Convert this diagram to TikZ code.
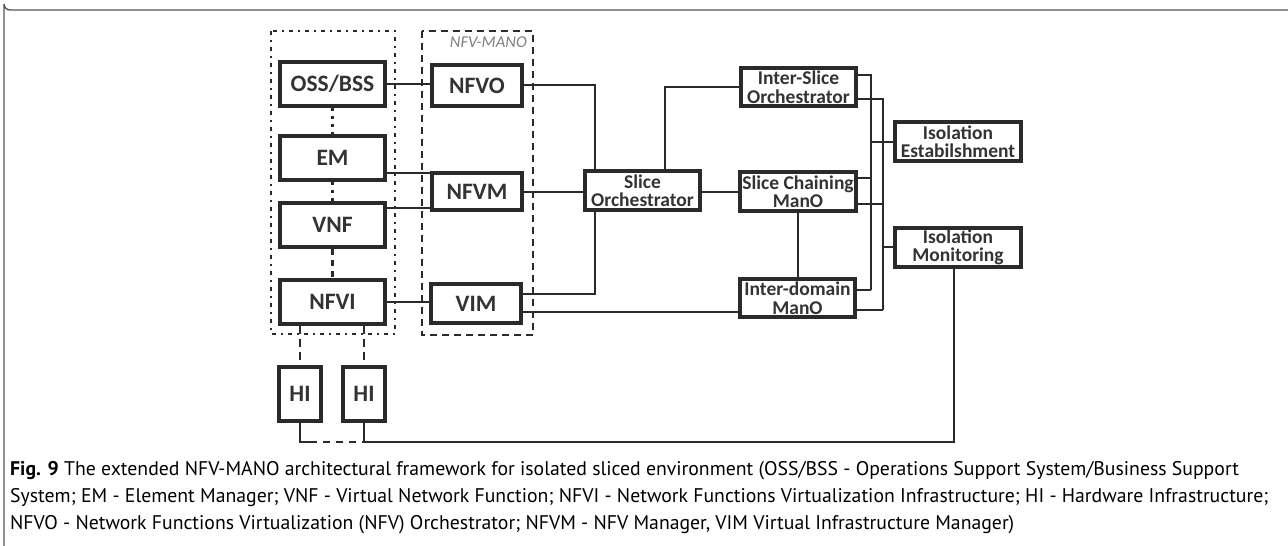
\documentclass[tikz,border=0pt]{standalone}
\usepackage{fontspec}
\setmainfont{Carlito}
\newfontfamily\capfont{PT Sans}
\definecolor{ink}{HTML}{2A2A2A}
\definecolor{txt}{HTML}{333333}
\definecolor{frame}{HTML}{555555}
\tikzset{
  box/.style={draw=ink, line width=3.6pt, fill=white, inner sep=0pt, align=center,
    text=txt, font=\bfseries\fontsize{23.5}{23.5}\selectfont},
  tbox/.style={box, font=\bfseries\fontsize{19.5}{18.5}\selectfont},
  conn/.style={draw=ink, line width=1.8pt},
  dotc/.style={draw=ink, line width=2.2pt, dash pattern=on 3pt off 5pt},
  dashc/.style={draw=ink, line width=2.2pt, dash pattern=on 8pt off 5pt},
  capline/.style={anchor=base west, inner sep=0pt, text=black, font=\capfont\fontsize{19.75}{22}\selectfont},
}
\begin{document}
\begin{tikzpicture}[x=1pt,y=-1pt]
\useasboundingbox (0,0) rectangle (1288,546);
% frame
\draw[frame, line width=1.4pt] (1288,10) -- (10,10) arc[start angle=90,end angle=180,radius=6] -- (4,546);
% group boxes
\draw[ink, line width=2.4pt, dash pattern=on 4pt off 5pt on 2pt off 5pt] (271,31) rectangle (395,334);
\draw[ink, line width=2.4pt, dash pattern=on 7pt off 5pt] (422,31) rectangle (533,335);
\node[anchor=east, inner sep=0pt, text=gray, font=\itshape\fontsize{16.5}{16.5}\selectfont] (mano) at (527,42) {NFV-MANO};
% left column
\node[box, minimum width=105pt, minimum height=44pt] (oss) at (332.5,84) {OSS/BSS};
\node[box, minimum width=105pt, minimum height=44pt] (em) at (332.5,158) {EM};
\node[box, minimum width=105pt, minimum height=44pt] (vnf) at (332.5,225) {VNF};
\node[box, minimum width=105pt, minimum height=44pt] (nfvi) at (332.5,302) {NFVI};
\node[box, minimum width=42pt, minimum height=54pt] (hi1) at (300,394) {HI};
\node[box, minimum width=42pt, minimum height=54pt] (hi2) at (364,394) {HI};
% MANO column
\node[box, minimum width=90pt, minimum height=41pt] (nfvo) at (477,85.5) {NFVO};
\node[box, minimum width=90pt, minimum height=37pt] (nfvm) at (477,191.5) {NFVM};
\node[box, minimum width=90pt, minimum height=39pt] (vim) at (476,303.5) {VIM};
% extension
\node[tbox, minimum width=115pt, minimum height=39pt] (so) at (642.5,190.5) {Slice\\Orchestrator};
\node[tbox, minimum width=115pt, minimum height=38pt] (iso) at (798.5,87) {Inter-Slice\\Orchestrator};
\node[tbox, minimum width=116pt, minimum height=39pt] (scm) at (798,191.5) {Slice Chaining\\ManO};
\node[tbox, minimum width=115pt, minimum height=38pt] (idm) at (797.5,298) {Inter-domain\\ManO};
\node[tbox, minimum width=126pt, minimum height=39pt] (ie) at (958,141.5) {Isolation\\Estabilshment};
\node[tbox, minimum width=126pt, minimum height=39pt] (im) at (958,247.5) {Isolation\\Monitoring};
% vertical links in left column
\draw[dotc] (oss.south) -- (em.north);
\draw[dotc] (em.south) -- (vnf.north);
\draw[ink, line width=2.2pt, dash pattern=on 6pt off 5pt] (vnf.south) -- (nfvi.north);
\draw[dashc] (nfvi.south -| hi1.north) -- (hi1.north);
\draw[dashc] (nfvi.south -| hi2.north) -- (hi2.north);
% left to MANO
\draw[conn] (oss.east |- 0,84) -- (nfvo.west |- 0,84);
\draw[conn] (em.east |- 0,173) -- (nfvm.west |- 0,173);
\draw[conn] (vnf.east |- 0,208) -- (nfvm.west |- 0,208);
\draw[conn] (nfvi.east |- 0,302) -- (vim.west |- 0,302);
% MANO to slice orchestrator
\coordinate (a1) at (595,85);
\coordinate (a2) at (595,294);
\draw[conn] (nfvo.east |- a1) -- (a1) -- (so.north -| a1);
\draw[conn] (nfvm.east |- 0,192) -- (so.west |- 0,192);
\draw[conn] (vim.east |- a2) -- (a2) -- (so.south -| a2);
\draw[conn] (vim.east |- 0,312) -- (idm.west |- 0,312);
\coordinate (b1) at (665,87);
\draw[conn] (so.north -| b1) -- (b1) -- (iso.west |- b1);
\draw[conn] (so.east |- 0,192) -- (scm.west |- 0,192);
\draw[conn] (scm.south) -- (idm.north -| scm.south);
% bus lines
\coordinate (p1) at (871,75);
\coordinate (p2) at (883,99);
\coordinate (q1) at (871,290);
\coordinate (q2) at (883,310);
\draw[conn] (iso.east |- p1) -- (p1) -- (q1);
\draw[conn] (iso.east |- p2) -- (p2) -- (q2);
\draw[conn] (scm.east |- 0,178) -- (871,178);
\draw[conn] (scm.east |- 0,204) -- (883,204);
\draw[conn] (idm.east |- q1) -- (q1);
\draw[conn] (idm.east |- q2) -- (q2);
\draw[conn] (871,142) -- (ie.west |- 0,142);
\draw[conn] (883,247) -- (im.west |- 0,247);
% monitoring feedback
\coordinate (c1) at (954,442);
\coordinate (c2) at (364,442);
\coordinate (c3) at (300,442);
\draw[conn] (im.south -| c1) -- (c1) -- (c2) -- (hi2.south);
\draw[conn] (hi1.south) -- (c3) -- (310,442);
\draw[ink, line width=1.8pt, dash pattern=on 7pt off 6pt] (310,442) -- (c2);
% caption
\node[capline] (cap1) at (10,475) {\textbf{Fig. 9} The extended NFV-MANO architectural framework for isolated sliced environment (OSS/BSS - Operations Support System/Business Support};
\node[capline] (cap2) at (10,502) {System; EM - Element Manager; VNF - Virtual Network Function; NFVI - Network Functions Virtualization Infrastructure; HI - Hardware Infrastructure;};
\node[capline] (cap3) at (10,529) {NFVO - Network Functions Virtualization (NFV) Orchestrator; NFVM - NFV Manager, VIM Virtual Infrastructure Manager)};
\end{tikzpicture}
\end{document}
